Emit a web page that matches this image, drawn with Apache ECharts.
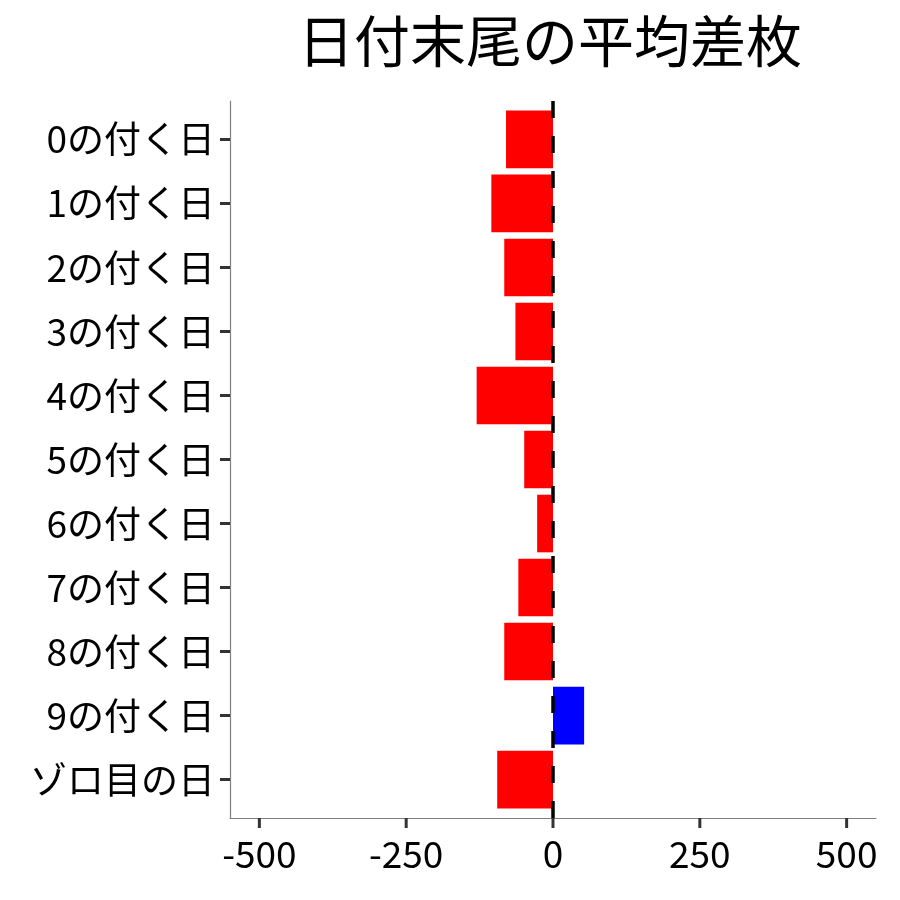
<!DOCTYPE html>
<html>
<head>
<meta charset="utf-8">
<script src="https://cdn.jsdelivr.net/npm/echarts@6/dist/echarts.min.js"></script>
<style>html,body{margin:0;padding:0;background:#fff;}#c{width:900px;height:900px;}</style>
</head>
<body>
<div id="c"></div>
<script>
var categories = ['0の付く日','1の付く日','2の付く日','3の付く日','4の付く日','5の付く日','6の付く日','7の付く日','8の付く日','9の付く日','ゾロ目の日'];
var values = [-80, -105, -83, -64, -130, -49, -27, -59, -83, 53, -95];
var xTickValues = [-500, -250, 0, 250, 500];
var titleText = '日付末尾の平均差枚';

var FONT = '"Noto Sans CJK JP", "Noto Sans", sans-serif';
// panel geometry (ggplot-like): x limits +-500 expanded by 5%, discrete y expanded by 0.6 units
var P = {left: 230, right: 24, top: 101, bottom: 82, w: 646, h: 717};
var TICK_LEN = 10;
var xTickMin = xTickValues[0], xTickMax = xTickValues[xTickValues.length - 1];
var xStep = xTickValues[1] - xTickValues[0];
var xExp = (xTickMax - xTickMin) * 0.05;
var xLo = xTickMin - xExp, xHi = xTickMax + xExp;
var pxPerUnit = P.w / (xHi - xLo);
var band = P.h / (categories.length - 1 + 1.2);
var padY = band * 0.1;

var chart = echarts.init(document.getElementById('c'), null, {renderer: 'canvas'});
chart.setOption({
  animation: false,
  backgroundColor: '#ffffff',
  title: {
    text: titleText,
    left: 545, top: 8, textAlign: 'center',
    textStyle: {fontFamily: FONT, fontSize: 56, fontWeight: 'normal', color: '#000'}
  },
  grid: [
    // 0: panel frame (axis lines + zero line)
    {left: P.left, right: P.right, top: P.top, bottom: P.bottom},
    // 1: x ticks/labels (extends TICK_LEN below the panel so tick marks sit inside it)
    {left: P.left + xExp * pxPerUnit, right: P.right + xExp * pxPerUnit, top: P.top, bottom: P.bottom - TICK_LEN},
    // 2: bars + category labels
    {left: P.left, right: P.right, top: P.top + padY, bottom: P.bottom + padY}
  ],
  xAxis: [
    {gridIndex: 0, type: 'value', min: xLo, max: xHi,
     splitLine: {show: false}, axisTick: {show: false}, axisLabel: {show: false},
     axisLine: {show: true, onZero: false, lineStyle: {color: '#7f7f7f', width: 1.2}}},
    {gridIndex: 1, type: 'value', min: xTickMin, max: xTickMax, interval: xStep,
     splitLine: {show: false},
     axisLine: {show: false, onZero: false},
     axisTick: {show: false},
     axisLabel: {fontFamily: FONT, fontSize: 37, color: '#000', margin: 7}},
    {gridIndex: 2, type: 'value', min: xLo, max: xHi, show: false}
  ],
  yAxis: [
    {gridIndex: 0, type: 'value', min: 0, max: 1,
     splitLine: {show: false}, axisTick: {show: false}, axisLabel: {show: false},
     axisLine: {show: true, onZero: false, lineStyle: {color: '#7f7f7f', width: 1.2}}},
    {gridIndex: 1, type: 'value', min: 0, max: 1, show: false},
    {gridIndex: 2, type: 'category', data: categories, inverse: true,
     axisLine: {show: false, onZero: false},
     axisTick: {show: true, alignWithLabel: true, length: TICK_LEN, lineStyle: {color: '#333', width: 3}},
     axisLabel: {fontFamily: FONT, fontSize: 37, color: '#000', margin: 15}}
  ],
  series: [
    {
      type: 'bar', xAxisIndex: 2, yAxisIndex: 2,
      barCategoryGap: '10%',
      data: values.map(function (v) {
        return {value: v, itemStyle: {color: v >= 0 ? '#0000ff' : '#ff0000'}};
      })
    },
    {
      type: 'line', xAxisIndex: 0, yAxisIndex: 0, data: [], symbol: 'none',
      markLine: {
        silent: true, symbol: 'none', label: {show: false}, z: 10,
        lineStyle: {color: '#000', width: 3.5, type: [17, 18]},
        data: [{xAxis: 0}]
      }
    },
    {
      // x-axis tick marks, positioned through the axis scale (from grid-1 bottom up to the panel edge)
      type: 'custom', xAxisIndex: 1, yAxisIndex: 1, silent: true, z: 1,
      data: xTickValues.map(function (v) { return [v, 0]; }),
      renderItem: function (params, api) {
        var p = api.coord([api.value(0), api.value(1)]);
        return {
          type: 'line',
          shape: {x1: p[0], y1: p[1], x2: p[0], y2: p[1] - TICK_LEN},
          style: {stroke: '#333', lineWidth: 3}
        };
      }
    }
  ]
});
</script>
</body>
</html>
